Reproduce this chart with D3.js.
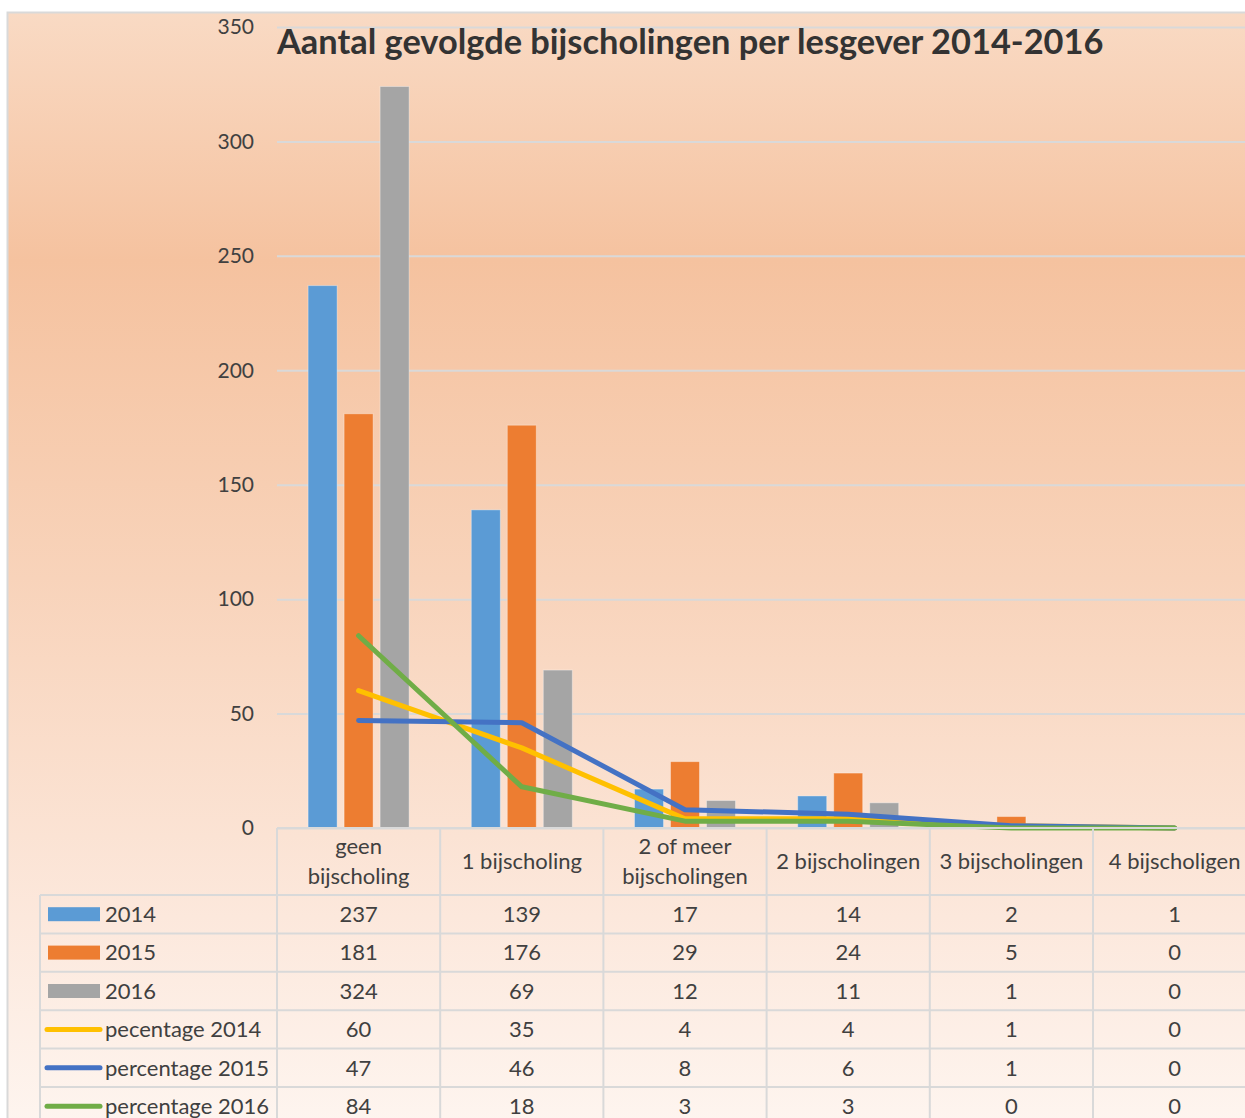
<!DOCTYPE html>
<html>
<head>
<meta charset="utf-8">
<script src="https://cdn.jsdelivr.net/npm/d3@7"></script>
<style>
  body { margin: 0; background: #fff; }
  svg { display: block; font-family: Lato, "Open Sans", sans-serif; }
</style>
</head>
<body>
<svg id="chart" width="1245" height="1118"></svg>
<script>
// categories on the x axis (label lines split by \n)
const categories = ["geen\nbijscholing", "1 bijscholing", "2 of meer\nbijscholingen",
    "2 bijscholingen", "3 bijscholingen", "4 bijscholigen"];
const years = ["2014", "2015", "2016"];
const counts2014 = [237, 139, 17, 14, 2, 1];
const counts2015 = [181, 176, 29, 24, 5, 0];
const counts2016 = [324, 69, 12, 11, 1, 0];
const pct2014 = [60, 35, 4, 4, 1, 0];
const pct2015 = [47, 46, 8, 6, 1, 0];
const pct2016 = [84, 18, 3, 3, 0, 0];
const yTicks = [0, 50, 100, 150, 200, 250, 300, 350];
const title = "Aantal gevolgde bijscholingen per lesgever 2014-2016";

let barColors = ["#5b9bd5", "#ed7d31", "#a5a5a5"];
let lineColors = ["#ffc000", "#4472c4", "#70ad47"];
let gridColor = "#d9d9d9";
let textColor = "#404040";

// rows of the data table below the chart
let rows = [
    {name: "2014", values: counts2014, kind: "bar", color: barColors[0]},
    {name: "2015", values: counts2015, kind: "bar", color: barColors[1]},
    {name: "2016", values: counts2016, kind: "bar", color: barColors[2]},
    {name: "pecentage 2014", values: pct2014, kind: "line", color: lineColors[0]},
    {name: "percentage 2015", values: pct2015, kind: "line", color: lineColors[1]},
    {name: "percentage 2016", values: pct2016, kind: "line", color: lineColors[2]}
];

let svg = d3.select("#chart");
let plotLeft = 277, plotTop = 27, plotBottom = 828;
let colW = 163.2;
let headerH = 67, rowH = 38.4, legendLeft = 40;
let tableFont = "22px";

// background gradient
let defs = svg.append("defs");
let grad = defs.append("linearGradient").attr("id", "bg")
    .attr("x1", 0).attr("y1", 0).attr("x2", 0).attr("y2", 1);
[[0, "#f9dac4"], [0.22, "#f5c29f"], [0.5, "#f8d3ba"], [0.8, "#fce8dc"], [1, "#fef6f1"]]
    .forEach(s => grad.append("stop").attr("offset", s[0]).attr("stop-color", s[1]));

svg.append("rect").attr("x", 7.5).attr("y", 12.5).attr("width", 1260).attr("height", 1130)
    .attr("fill", "url(#bg)").attr("stroke", gridColor).attr("stroke-width", 2);

let x = d3.scaleBand().domain(categories).range([plotLeft, plotLeft + colW * categories.length]);
let xInner = d3.scaleBand().domain(years).range([0, colW])
    .paddingInner(7 / 36).paddingOuter(0.864);
let y = d3.scaleLinear().domain([0, 350]).range([plotBottom, plotTop]);

// gridlines + y tick labels
let yAxis = svg.append("g").attr("transform", `translate(${plotLeft},0)`)
    .call(d3.axisLeft(y).tickValues(yTicks).tickSize(-1000).tickPadding(23));
yAxis.select(".domain").remove();
yAxis.selectAll(".tick line").attr("stroke", gridColor).attr("stroke-width", 2);
yAxis.selectAll(".tick text").attr("fill", textColor).style("font-size", "21px")
    .style("font-family", "Lato, sans-serif");

// bars
let barSeries = [counts2014, counts2015, counts2016];
barSeries.forEach((vals, si) => {
    svg.append("g").selectAll("rect").data(vals).join("rect")
        .attr("x", (d, i) => x(categories[i]) + xInner(years[si]))
        .attr("y", d => y(d))
        .attr("width", xInner.bandwidth())
        .attr("height", d => y(0) - y(d))
        .attr("fill", barColors[si])
        .attr("stroke", "rgba(255,255,255,0.35)").attr("stroke-width", 1);
});

// lines
let line = d3.line()
    .x((d, i) => x(categories[i]) + x.bandwidth() / 2)
    .y(d => y(d));
[pct2014, pct2015, pct2016].forEach((vals, si) => {
    svg.append("path").datum(vals)
        .attr("d", line)
        .attr("fill", "none")
        .attr("stroke", lineColors[si])
        .attr("stroke-width", 5)
        .attr("stroke-linecap", "round")
        .attr("stroke-linejoin", "round");
});

// title
let titleText = svg.append("text").attr("x", plotLeft).attr("y", 54)
    .attr("fill", "#333").attr("font-weight", "bold").style("font-size", "33px")
    .text(title);
let tw = titleText.node().getComputedTextLength();
titleText.style("font-size", (33 * 827 / tw) + "px");

// data table
let table = svg.append("g");
let tableBottom = 1130;
let rowsTop = plotBottom + headerH;

// x axis line / table top
table.append("line").attr("x1", plotLeft).attr("x2", 1245)
    .attr("y1", plotBottom).attr("y2", plotBottom)
    .attr("stroke", gridColor).attr("stroke-width", 2);
// horizontal row lines
d3.range(rows.length).forEach(r => {
    table.append("line").attr("x1", legendLeft).attr("x2", 1245)
        .attr("y1", rowsTop + r * rowH).attr("y2", rowsTop + r * rowH)
        .attr("stroke", gridColor).attr("stroke-width", 2);
});
// vertical lines
table.append("line").attr("x1", legendLeft).attr("x2", legendLeft)
    .attr("y1", rowsTop).attr("y2", tableBottom)
    .attr("stroke", gridColor).attr("stroke-width", 2);
d3.range(categories.length + 1).forEach(c => {
    let xx = plotLeft + c * colW;
    table.append("line").attr("x1", xx).attr("x2", xx)
        .attr("y1", plotBottom).attr("y2", tableBottom)
        .attr("stroke", gridColor).attr("stroke-width", 2);
});

// header labels
categories.forEach(cat => {
    let parts = cat.split("\n");
    let cx = x(cat) + x.bandwidth() / 2;
    let cy = plotBottom + headerH / 2;
    let t = table.append("text").attr("text-anchor", "middle").attr("fill", textColor)
        .style("font-size", tableFont);
    parts.forEach((p, k) => {
        t.append("tspan").attr("x", cx)
            .attr("y", cy + (k - (parts.length - 1) / 2) * 30)
            .attr("dy", "0.35em").text(p);
    });
});

// rows: legend key + values
rows.forEach((row, r) => {
    let cy = rowsTop + r * rowH + rowH / 2;
    if (row.kind === "bar") {
        table.append("rect").attr("x", 48).attr("y", cy - 7).attr("width", 52).attr("height", 14)
            .attr("fill", row.color);
    } else {
        table.append("line").attr("x1", 47).attr("x2", 100).attr("y1", cy).attr("y2", cy)
            .attr("stroke", row.color).attr("stroke-width", 5).attr("stroke-linecap", "round");
    }
    table.append("text").attr("x", 105).attr("y", cy).attr("dy", "0.35em")
        .attr("fill", textColor).style("font-size", tableFont).text(row.name);
    row.values.forEach((v, i) => {
        table.append("text").attr("x", x(categories[i]) + x.bandwidth() / 2)
            .attr("y", cy).attr("dy", "0.35em").attr("text-anchor", "middle")
            .attr("fill", textColor).style("font-size", tableFont).text(v);
    });
});
</script>
</body>
</html>
